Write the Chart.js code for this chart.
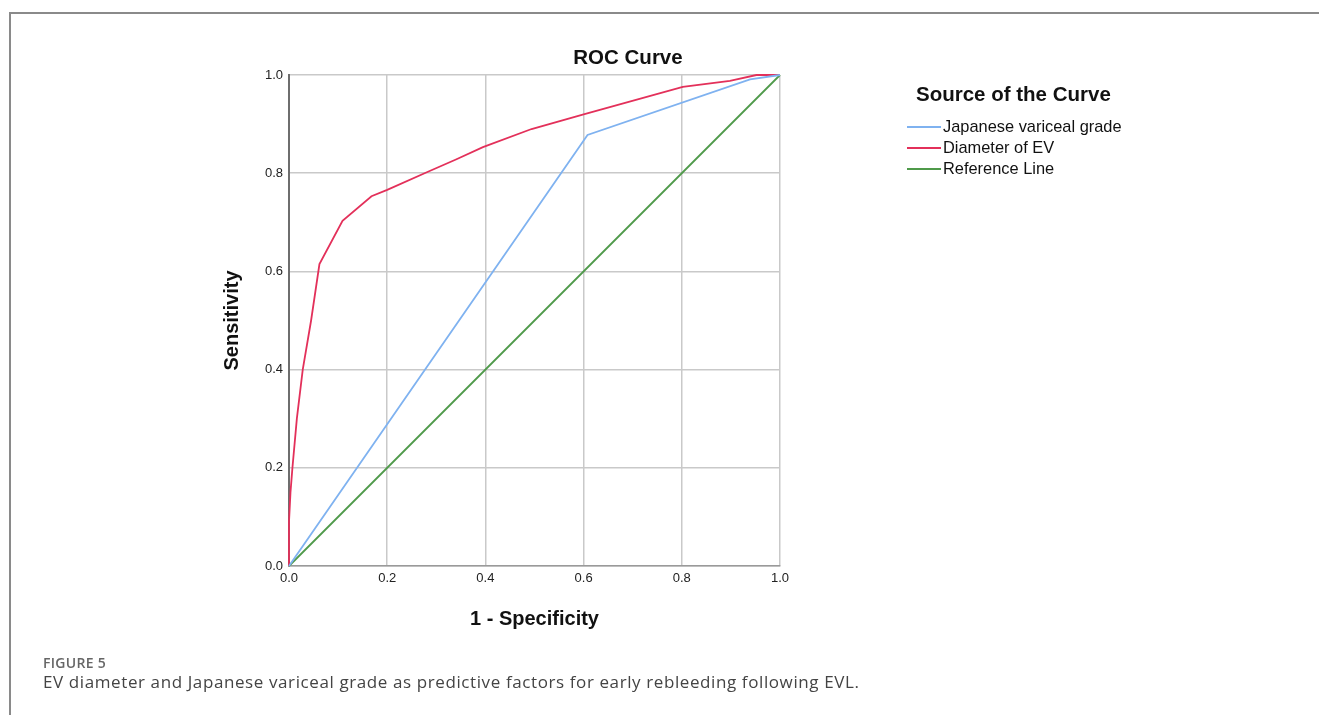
<!DOCTYPE html>
<html>
<head>
<meta charset="utf-8">
<script src="https://cdn.jsdelivr.net/npm/chart.js@4.4.1/dist/chart.umd.min.js"></script>
<style>
  html, body { margin: 0; padding: 0; background: #fff; }
  body { width: 1319px; height: 715px; position: relative; overflow: hidden; }
  #frame { position: absolute; left: 9px; top: 12px; right: -5px; bottom: -5px; border-left: 2px solid #8a8a8a; border-top: 2px solid #8a8a8a; }
  #wrap { position: absolute; left: 0; top: 0; width: 1319px; height: 715px; }
  .txt { position: absolute; font-family: "Liberation Sans", Arial, sans-serif; color: #111; white-space: nowrap; }
  #title { left: 628px; top: 45px; transform: translateX(-50%); font-size: 20.5px; font-weight: bold; }
  #legend { left: 907px; top: 82px; }
  #legend .head { font-size: 20.5px; font-weight: bold; margin-left: 9px; margin-bottom: 10px; }
  #legend .row { font-size: 16.4px; height: 21px; line-height: 21px; }
  #legend .swatch { display: inline-block; width: 34px; height: 0; border-top: 2px solid; vertical-align: middle; margin-right: 2px; position: relative; top: -1px; }
  .cap { position: absolute; left: 43px; font-family: "Open Sans", "Noto Sans", sans-serif; white-space: nowrap; }
  #figno { top: 653px; font-size: 14px; color: #666; font-weight: 600; letter-spacing: 0.3px; }
  #figcap { top: 670px; font-size: 17px; color: #444; letter-spacing: 0.6px; }
</style>
</head>
<body>
<div id="frame"></div>
<div id="wrap"><canvas id="roc"></canvas></div>
<div class="txt" id="title">ROC Curve</div>
<div class="txt" id="legend"><div class="head">Source of the Curve</div></div>
<div class="cap" id="figno">FIGURE 5</div>
<div class="cap" id="figcap">EV diameter and Japanese variceal grade as predictive factors for early rebleeding following EVL.</div>
<script>
// curves (1 - specificity, sensitivity)
const seriesNames = ["Japanese variceal grade", "Diameter of EV", "Reference Line"]
const seriesColors = ["#7fb2f0", "#e3305a", "#4f9a4a"]

const jvgFpr = [0, 0.608, 0.939, 1]
const jvgTpr = [0, 0.878, 0.991, 1]

const diamFpr = [0, 0, 0.003, 0.007, 0.016, 0.028, 0.045, 0.062, 0.109, 0.168, 0.2, 0.283, 0.34, 0.395, 0.494, 0.6, 0.802, 0.898, 0.952, 1]
const diamTpr = [0, 0.09, 0.15, 0.2, 0.3, 0.4, 0.5, 0.615, 0.703, 0.753, 0.766, 0.803, 0.828, 0.853, 0.89, 0.92, 0.976, 0.988, 1, 1]

const refFpr = [0, 1]
const refTpr = [0, 1]

const tickValues = [0, 0.2, 0.4, 0.6, 0.8, 1.0]

const toPoints = (xs, ys) => xs.map((x, i) => ({ x: x, y: ys[i] }))

const allX = [jvgFpr, diamFpr, refFpr]
const allY = [jvgTpr, diamTpr, refTpr]

const datasets = seriesNames.map((name, i) => ({
    label: name,
    data: toPoints(allX[i], allY[i]),
    showLine: true,
    borderColor: seriesColors[i],
    backgroundColor: seriesColors[i],
    borderWidth: 1.8,
    pointRadius: 0,
    tension: 0,
    clip: 4,
}))

// legend made from the same names/colours
const legend = document.querySelector("#legend")
seriesNames.forEach((name, i) => {
    const row = document.createElement("div")
    row.className = "row"
    const sw = document.createElement("span")
    sw.className = "swatch"
    sw.style.borderColor = seriesColors[i]
    row.appendChild(sw)
    row.appendChild(document.createTextNode(name))
    legend.appendChild(row)
})

const tickFont = { family: "Liberation Sans", size: 13 }
const titleFont = { family: "Liberation Sans", size: 20, weight: "bold" }

const ctx = document.querySelector("#roc")
new Chart(ctx, {
    type: 'scatter',
    data: { datasets: datasets },
    options: {
        responsive: true,
        maintainAspectRatio: false,
        animation: false,
        layout: { padding: { left: 200, right: 539, top: 75, bottom: 79 } },
        plugins: {
            legend: { display: false },
            tooltip: { enabled: false },
        },
        scales: {
            x: {
                type: 'linear',
                min: 0,
                max: 1,
                afterBuildTicks: (scale) => { scale.ticks = tickValues.map(v => ({ value: v })) },
                afterFit: (scale) => { scale.height = 70 },
                ticks: { color: '#222', font: tickFont, padding: 5, callback: v => v.toFixed(1), maxRotation: 0 },
                grid: { color: '#c9c9c9', lineWidth: 1.5, drawTicks: false },
                border: { color: '#9a9a9a', width: 1.5 },
                title: { display: true, text: '1 - Specificity', color: '#111', font: titleFont, padding: { top: 0, bottom: 5 } },
            },
            y: {
                type: 'linear',
                min: 0,
                max: 1,
                afterBuildTicks: (scale) => { scale.ticks = tickValues.map(v => ({ value: v })) },
                afterFit: (scale) => { scale.width = 89 },
                ticks: { color: '#222', font: tickFont, padding: 6, callback: v => v.toFixed(1) },
                grid: { color: '#c9c9c9', lineWidth: 1.5, drawTicks: false },
                border: { color: '#6e6e6e', width: 2 },
                title: { display: true, text: 'Sensitivity', color: '#111', font: titleFont, padding: { top: 20, bottom: 0 } },
            },
        },
    },
})
</script>
</body>
</html>
